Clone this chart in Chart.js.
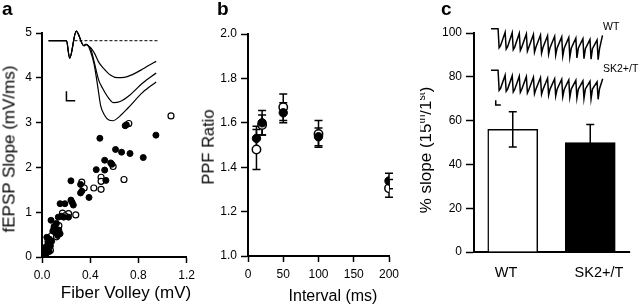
<!DOCTYPE html>
<html>
<head>
<meta charset="utf-8">
<title>SK2 fEPSP figure</title>
<script src="https://cdn.jsdelivr.net/npm/chart.js@4.4.1/dist/chart.umd.min.js"></script>
<style>
  body { margin:0; width:640px; height:307px; position:relative; overflow:hidden; background:#fff;
         font-family:"Liberation Sans", Arial, Helvetica, sans-serif; color:#000; }
  canvas { position:absolute; top:0; }
  .txt { position:absolute; white-space:nowrap; line-height:1; transform:translate(-50%,-50%); }
  .vert { transform:translate(-50%,-50%) rotate(-90deg); }
  .lft { position:absolute; white-space:nowrap; line-height:1; transform:translate(0,-50%); }
  .letter { position:absolute; font-weight:bold; font-size:19px; line-height:19px; }
  sup { font-size:62%; vertical-align:0.5em; line-height:0; }
</style>
</head>
<body>
<canvas id="chartA" width="200" height="307" style="left:0"></canvas>
<canvas id="chartB" width="215" height="307" style="left:200px"></canvas>
<canvas id="chartC" width="225" height="307" style="left:415px"></canvas>
<canvas id="chartCtr" width="124" height="90" style="left:486px;top:20px"></canvas>

<div class="letter" style="left:2px;top:-1px">a</div>
<div class="letter" style="left:217px;top:-1px">b</div>
<div class="letter" style="left:441px;top:-1px">c</div>

<div class="txt vert" style="left:9px;top:149px;font-size:17px">fEPSP Slope (mV/ms)</div>
<div class="txt" style="left:126px;top:292px;font-size:17px">Fiber Volley (mV)</div>
<div class="txt vert" style="left:208px;top:147px;font-size:16.5px">PPF Ratio</div>
<div class="txt" style="left:333px;top:296px;font-size:16px">Interval (ms)</div>
<div style="position:absolute;left:420px;top:0;width:30px;height:307px;overflow:hidden">
  <div class="txt vert" style="left:5px;top:150px;font-size:17px">% slope (15<sup>th</sup>/1<sup>st</sup>)</div>
</div>
<div class="lft" style="left:603px;top:26px;font-size:10.5px">WT</div>
<div class="lft" style="left:603px;top:68px;font-size:10.5px">SK2+/T</div>

<script>
// ---------- panel a : fEPSP slope vs fiber volley ----------
// filled = SK2+/T, open = WT
const fvSK    = [0.69,0.70,0.48,0.945,0.61,0.66,0.73,0.84,0.52,0.57,0.58,0.45,0.52,0.53,0.39,0.24,0.32,0.33,0.32,0.24,0.25,0.26,0.15,0.19,0.135,0.16,0.18,0.22,0.075,0.12,0.10,0.12,0.14,0.09,0.11,0.15,0.13,0.04,0.06,0.08,0.05,0.03,0.07,0.02,0.04,0.01,0.03,0.06];
const slopeSK = [2.93,2.95,2.65,2.72,2.40,2.34,2.31,2.22,2.16,2.10,2.07,1.95,1.94,1.71,1.33,1.70,1.62,1.47,1.43,1.27,1.22,1.16,1.19,1.19,0.89,0.91,0.89,0.89,0.82,0.75,0.68,0.62,0.60,0.58,0.55,0.52,0.48,0.44,0.40,0.35,0.30,0.22,0.25,0.15,0.10,0.06,0.03,0.12];
const fvWT    = [0.72,1.07,0.59,0.49,0.49,0.49,0.68,0.43,0.33,0.35,0.28,0.17,0.22,0.19,0.14,0.10,0.08,0.12,0.05,0.03,0.07,0.02,0.01];
const slopeWT = [2.98,3.15,2.02,1.78,1.69,1.51,1.73,1.54,1.67,1.54,0.94,0.98,0.97,0.92,0.70,0.62,0.48,0.45,0.35,0.20,0.15,0.08,0.02];

// inset field potentials (ms, mV)
const epspTimeStart = [1.7, 6.25, 7.08, 8.75, 10.7, 11.25, 11.83];
const epspVStart    = [0, 0, -0.73, 0.40, -0.21, -0.15, -0.21];
const epspTime1 = [12.5, 13.5, 14.5, 15.75, 17.5, 19.2, 21, 23.25, 25.75, 27.5, 29.2];
const epspV1    = [-0.3, -0.55, -0.89, -1.15, -1.43, -1.54, -1.53, -1.4, -1.18, -1.01, -0.86];
const epspTime2 = [12.5, 13.3, 14.5, 15.5, 17, 18.3, 20, 22.5, 25.75, 29.2];
const epspV2    = [-0.35, -0.85, -1.64, -1.98, -2.38, -2.58, -2.53, -2.26, -1.76, -1.34];
const epspTime3 = [12.3, 13.3, 14.25, 15, 16, 17.1, 18.2, 19.5, 22, 25.75, 29.2];
const epspV3    = [-0.4, -0.95, -1.9, -2.7, -3.1, -3.3, -3.33, -3.2, -2.8, -2.15, -1.72];
const baseTime = [8.3, 29.75];
const barTimeA = [6.25, 6.25, 8.5];
const barVA    = [-2.1, -2.5, -2.5];

// ---------- panel b : paired pulse facilitation ----------
const intervals = [12, 20, 50, 100, 200];
const ppfWT    = [1.48, 1.59, 1.67, 1.55, 1.305];
const ppfWTerr = [0.09, 0.045, 0.06, 0.06, 0.04];
const ppfSK    = [1.53, 1.60, 1.645, 1.537, 1.338];
const ppfSKerr = [0.055, 0.055, 0.045, 0.04, 0.035];

// ---------- panel c : 15th / 1st slope ----------
const groups   = ['WT', 'SK2+/T'];
const pctSlope = [56, 50];
const pctErr   = [8, 8.2];

// train traces: one top / trough / recovery value per stimulus
const stimIdx = [0,1,2,3,4,5,6,7,8,9,10,11,12,13,14];
const wtTop    = [0,-0.18,-0.2,-0.23,-0.26,-0.29,-0.32,-0.35,-0.38,-0.41,-0.44,-0.47,-0.5,-0.53,-0.56];
const wtTrough = [-0.95,-1.02,-1.05,-1.08,-1.12,-1.17,-1.22,-1.27,-1.32,-1.37,-1.42,-1.46,-1.5,-1.52,-1.55];
const wtMid    = [-0.85,-0.9,-0.92,-0.92,-0.93,-0.93,-0.94,-0.95,-0.96,-0.97,-0.98,-0.98,-1.0,-1.0,-1.0];
const skTop    = [0,-0.25,-0.27,-0.3,-0.32,-0.35,-0.37,-0.4,-0.43,-0.45,-0.48,-0.5,-0.53,-0.55,-0.58];
const skTrough = [-1.0,-1.05,-1.08,-1.1,-1.13,-1.17,-1.2,-1.24,-1.28,-1.32,-1.35,-1.38,-1.41,-1.43,-1.45];
const skMid    = [-0.9,-0.94,-0.96,-0.95,-0.97,-0.95,-0.96,-0.94,-0.95,-0.96,-0.94,-0.95,-0.93,-0.94,-0.92];
const barTimeC = [-0.33, -0.33, 0.38];
const barVC    = [-1.5, -1.73, -1.73];

Chart.defaults.font.family = '"Liberation Sans", Arial, Helvetica, sans-serif';
Chart.defaults.color = '#000';
Chart.defaults.animation = false;
Chart.defaults.responsive = false;
Chart.defaults.devicePixelRatio = 1;
Chart.defaults.plugins.legend.display = false;
Chart.defaults.plugins.tooltip.enabled = false;

const pts = (xs, ys) => xs.map((x, i) => ({x: x, y: ys[i]}));

function axisLook(tickLen) {
  return {
    border: {display: true, color: '#000', width: 2},
    grid: {drawOnChartArea: false, color: '#000', tickColor: '#000', tickLength: tickLen, tickWidth: 1.5}
  };
}

// error bars drawn through the y scale
function errorBarPlugin(sets, capW, front) {
  const draw = chart => {
    const ctx = chart.ctx, ys = chart.scales.y;
    ctx.save();
    ctx.strokeStyle = '#000';
    ctx.lineWidth = 1.5;
    sets.forEach(s => {
      const meta = chart.getDatasetMeta(s.index);
      meta.data.forEach((el, i) => {
        const hi = ys.getPixelForValue(s.vals[i] + s.err[i]);
        const lo = ys.getPixelForValue(s.vals[i] - s.err[i]);
        ctx.beginPath();
        ctx.moveTo(el.x, hi); ctx.lineTo(el.x, lo);
        ctx.moveTo(el.x - capW / 2, hi); ctx.lineTo(el.x + capW / 2, hi);
        ctx.moveTo(el.x - capW / 2, lo); ctx.lineTo(el.x + capW / 2, lo);
        ctx.stroke();
      });
    });
    ctx.restore();
  };
  return {
    id: 'errbars',
    beforeDatasetsDraw(chart) { if (!front) draw(chart); },
    afterDatasetsDraw(chart) { if (front) draw(chart); }
  };
}

const traceLine = (data, xId, yId, extra) => Object.assign({
  type: 'line', data: data, xAxisID: xId, yAxisID: yId,
  borderColor: '#000', borderWidth: 1.2, pointRadius: 0, fill: false, clip: false
}, extra || {});

// ---------------- chart a ----------------
new Chart(document.getElementById('chartA'), {
  type: 'scatter',
  data: {
    datasets: [
      {data: pts(fvSK, slopeSK), pointRadius: 3, backgroundColor: '#000', borderColor: '#000', borderWidth: 1},
      {data: pts(fvWT, slopeWT), pointRadius: 3, backgroundColor: '#fff', borderColor: '#000', borderWidth: 1.2},
      traceLine(pts(epspTimeStart.concat(epspTime1), epspVStart.concat(epspV1)), 'xt', 'yt', {cubicInterpolationMode: 'monotone'}),
      traceLine(pts(epspTimeStart.concat(epspTime2), epspVStart.concat(epspV2)), 'xt', 'yt', {cubicInterpolationMode: 'monotone'}),
      traceLine(pts(epspTimeStart.concat(epspTime3), epspVStart.concat(epspV3)), 'xt', 'yt', {cubicInterpolationMode: 'monotone'}),
      traceLine(pts(baseTime, [0, 0]), 'xt', 'yt', {borderDash: [3, 2], borderWidth: 1}),
      traceLine(pts(barTimeA, barVA), 'xt', 'yt', {borderWidth: 1.5})
    ]
  },
  options: {
    layout: {padding: {top: 33, right: 10, bottom: 0, left: 0}},
    scales: {
      x: Object.assign(axisLook(6), {
        type: 'linear', min: 0, max: 1.2,
        afterFit: s => { s.height = 50; },
        ticks: {stepSize: 0.4, padding: 5, font: {size: 12}, callback: v => v.toFixed(1)}
      }),
      y: Object.assign(axisLook(6), {
        min: 0, max: 5,
        afterFit: s => { s.width = 42; },
        ticks: {stepSize: 1, padding: 4, font: {size: 12}}
      }),
      xt: {type: 'linear', display: false, min: 0, max: 37},
      yt: {type: 'linear', display: false, min: -9.0, max: 0.32}
    }
  }
});

// ---------------- chart b ----------------
new Chart(document.getElementById('chartB'), {
  type: 'scatter',
  data: {
    datasets: [
      {data: pts(intervals, ppfSK), pointRadius: 4.2, backgroundColor: '#000', borderColor: '#000', borderWidth: 1},
      {data: pts(intervals, ppfWT), pointRadius: 4.2, backgroundColor: '#fff', borderColor: '#000', borderWidth: 1.5}
    ]
  },
  options: {
    layout: {padding: {top: 34, right: 26, bottom: 0, left: 0}},
    scales: {
      x: Object.assign(axisLook(6), {
        type: 'linear', min: 0, max: 200,
        afterFit: s => { s.height = 51; },
        ticks: {stepSize: 50, padding: 5, font: {size: 12}}
      }),
      y: Object.assign(axisLook(7), {
        min: 1.0, max: 2.0,
        afterFit: s => { s.width = 48; },
        ticks: {stepSize: 0.2, padding: 4, font: {size: 12}, callback: v => v.toFixed(1)}
      })
    }
  },
  plugins: [errorBarPlugin([
    {index: 1, vals: ppfWT, err: ppfWTerr},
    {index: 0, vals: ppfSK, err: ppfSKerr}
  ], 8, false)]
});

// ---------------- chart c : bars ----------------
new Chart(document.getElementById('chartC'), {
  type: 'bar',
  data: {
    labels: groups,
    datasets: [
      {data: pctSlope, backgroundColor: ['#fff', '#000'], borderColor: '#000', borderWidth: 1.5, barThickness: 50}
    ]
  },
  options: {
    layout: {padding: {top: 33, right: 11, bottom: 0, left: 0}},
    scales: {
      x: Object.assign(axisLook(0), {
        type: 'category',
        afterFit: s => { s.height = 55; },
        ticks: {display: false}
      }),
      y: Object.assign(axisLook(8), {
        min: 0, max: 100,
        afterFit: s => { s.width = 59; },
        ticks: {stepSize: 20, padding: 4, font: {size: 12}}
      })
    }
  },
  plugins: [errorBarPlugin([{index: 0, vals: pctSlope, err: pctErr}], 8, true)]
});

// ---------------- chart c : stimulus train inset ----------------
function trainData(top, trough, mid, endT, endV) {
  const out = [{x: -1.0, y: 0}, {x: -0.05, y: 0}];
  stimIdx.forEach((s, i) => {
    out.push({x: s, y: top[i]}, {x: s + 0.15, y: trough[i]}, {x: s + 0.35, y: mid[i]});
  });
  out.push({x: endT, y: endV});
  return out;
}

new Chart(document.getElementById('chartCtr'), {
  type: 'scatter',
  data: {
    datasets: [
      traceLine(trainData(wtTop, wtTrough, wtMid, 14.77, -0.33), 'xTr', 'yWT', {borderWidth: 1.5}),
      traceLine(trainData(skTop, skTrough, skMid, 14.8, -0.42), 'xTr', 'ySK', {borderWidth: 1.5}),
      traceLine(pts(barTimeC, barVC), 'xTr', 'ySK', {borderWidth: 1.5})
    ]
  },
  options: {
    layout: {padding: 0},
    scales: {
      xTr: {type: 'linear', display: false, min: -1.707, max: 15.83},
      yWT: {type: 'linear', display: false, min: -4.065, max: 0.435},
      ySK: {type: 'linear', display: false, min: -1.985, max: 2.515}
    }
  }
});

// category labels under the bars
const groupLabelX = [506, 599];
groups.forEach((g, i) => {
  const d = document.createElement('div');
  d.className = 'txt';
  d.style.left = groupLabelX[i] + 'px';
  d.style.top = '272px';
  d.style.fontSize = '14.5px';
  d.textContent = g;
  document.body.appendChild(d);
});
</script>
</body>
</html>
